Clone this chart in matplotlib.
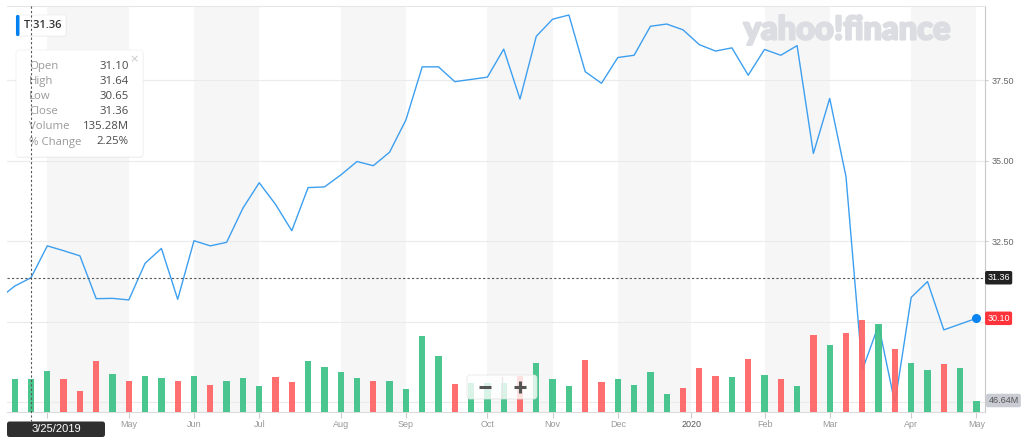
import matplotlib
matplotlib.use('Agg')
import matplotlib.pyplot as plt
from matplotlib.patches import FancyBboxPatch
import matplotlib.patheffects as pe
import pandas as pd

# ---------------- data ----------------
first_week = '2019-03-11'
close = [30.70, 31.10, 31.36, 32.35, 32.20, 32.04, 30.71, 30.72, 30.67, 31.81,
         32.27, 30.69, 32.51, 32.35, 32.46, 33.52, 34.31, 33.64, 32.82, 34.16,
         34.18, 34.55, 34.97, 34.84, 35.26, 36.26, 37.91, 37.91, 37.45, 37.52,
         37.59, 38.46, 36.91, 38.86, 39.39, 39.52, 37.76, 37.40, 38.20, 38.27,
         39.17, 39.24, 39.06, 38.60, 38.40, 38.50, 37.65, 38.45, 38.27, 38.57,
         35.22, 36.93, 34.50, 28.49, 29.89, 27.46, 30.75, 31.24, 29.74, 29.92,
         30.10]
volume_m = [135, 135.28, 166, 135, 86, 206, 153, 126, 146, 138,
            126, 146, 108, 126, 138, 104, 142, 122, 206, 184,
            161, 138, 126, 126, 93, 307, 226, 114, 119, 119,
            119, 146, 199, 133, 107, 212, 122, 133, 110, 161,
            72, 96, 177, 146, 142, 215, 149, 135, 104, 314,
            272, 321, 374, 356, 255, 199, 171, 195, 177, 46.64]
up = [1, 1, 1, 0, 0, 0, 1, 0, 1, 1,
      0, 1, 0, 1, 1, 1, 0, 0, 1, 1,
      1, 1, 0, 1, 1, 1, 1, 0, 1, 1,
      1, 0, 1, 1, 1, 0, 0, 1, 1, 1,
      1, 0, 0, 0, 1, 0, 1, 0, 1, 0,
      1, 0, 0, 1, 0, 1, 1, 0, 1, 1]
y_ticks = [27.5, 30.0, 32.5, 35.0, 37.5]
y_labels = ['', '', '32.50', '35.00', '37.50']
ticker = 'T'
hover_week = '2019-03-25'
tooltip_rows = [('Open', '31.10'), ('High', '31.64'), ('Low', '30.65'),
                ('Close', '31.36'), ('Volume', '135.28M'), ('% Change', '2.25%')]

# ---------------- derived ----------------
dates = pd.date_range(first_week, periods=len(close), freq='7D')
xp = list(range(-1, len(close) - 1))          # price positions (weekly index)
xv = list(range(len(volume_m)))               # volume bar positions
vdates = dates[1:]
hover_i = list(vdates).index(pd.Timestamp(hover_week))
hover_close = close[hover_i + 1]
last_close = close[-1]

# month boundaries / ticks
tick_pos, tick_lab = [], []
for i in range(1, len(vdates)):
    d, p = vdates[i], vdates[i - 1]
    if d.month != p.month:
        pos = i - 0.5 if d.month == 1 else i
        tick_pos.append(pos)
        tick_lab.append(str(d.year) if d.month == 1 else d.strftime('%b'))

W, H = 1024, 441
fig = plt.figure(figsize=(W / 100, H / 100), dpi=100)
fig.patch.set_facecolor('white')
L, R, T, B = 7, 985, 6, 412
ax = fig.add_axes([L / W, 1 - B / H, (R - L) / W, (B - T) / H])
ax2 = ax.twinx()

step = 16.3
x0px = 14.7
ax.set_xlim((L - x0px) / step, (R - x0px) / step)
ax.set_ylim(27.19, 39.80)
ax2.set_ylim(0, 406 * 4.06)

# alternate month shading
bounds = tick_pos + [ax.get_xlim()[1]]
for k in range(len(tick_pos)):
    if k % 2 == 0:
        ax.axvspan(bounds[k], bounds[k + 1], color='#f6f6f6', lw=0, zorder=0)

ax.set_yticks(y_ticks)
ax.set_yticklabels(y_labels)
ax.yaxis.tick_right()
ax.yaxis.grid(True, color='#ebebeb', lw=0.8, zorder=1)
ax.set_axisbelow(True)
ax.tick_params(axis='y', length=2.5, color='#cccccc', labelsize=6.5,
               labelcolor='#666666', pad=2)
for lab in ax.get_yticklabels():
    lab.set_fontfamily('Liberation Sans')

# the first month label sits under the hover date box, so it is hidden there
shown_labels = ['' if k == 0 else t for k, t in enumerate(tick_lab)]
ax.set_xticks(tick_pos)
ax.set_xticklabels(shown_labels)
ax.tick_params(axis='x', length=4, color='#cccccc', labelsize=6.5,
               labelcolor='#999999', pad=1.5)
for lab in ax.get_xticklabels():
    lab.set_fontfamily('Liberation Sans')
    if lab.get_text().isdigit():
        lab.set_color('#555555')

ax.spines['left'].set_visible(False)
ax.spines['top'].set_color('#e6e6e6')
ax.spines['right'].set_color('#c8c8c8')
ax.spines['bottom'].set_color('#dcdcdc')
for s in ax2.spines.values():
    s.set_visible(False)
ax2.set_yticks([])

# price line
ax.plot(xp, close, color='#3d9ff0', lw=1.0, zorder=3)
ax.axhline(hover_close, color='#555555', ls=(0, (2, 2)), lw=0.8, zorder=3)
ax.plot([xp[-1]], [last_close], 'o', ms=5.5, color='#0a84f0', zorder=5, clip_on=False)

# volume bars (drawn above the line, translucent)
cols = ['#3ec287' if u else '#ff6464' for u in up]
ax2.bar(xv, volume_m, width=0.39, color=cols, alpha=0.93, lw=0, zorder=2)

# right side value boxes
ax.text(1.0024, hover_close, f'{hover_close:.2f}', transform=ax.get_yaxis_transform(),
        ha='left', va='center', fontsize=6.5, color='white', family='Liberation Sans',
        bbox=dict(boxstyle='round,pad=0.25,rounding_size=0.2', fc='#222222', ec='none'),
        clip_on=False, zorder=6)
ax.text(1.0024, last_close, f'{last_close:.2f}', transform=ax.get_yaxis_transform(),
        ha='left', va='center', fontsize=6.5, color='white', family='Liberation Sans',
        bbox=dict(boxstyle='round,pad=0.25,rounding_size=0.2', fc='#ff333a', ec='none'),
        clip_on=False, zorder=6)
ax2.text(1.0034, volume_m[-1], f'{volume_m[-1]:.2f}M', transform=ax2.get_yaxis_transform(),
         ha='left', va='center', fontsize=6.5, color='#555555', family='Liberation Sans',
         bbox=dict(boxstyle='round,pad=0.25,rounding_size=0.2', fc='#c9ccd2', ec='none'),
         clip_on=False, zorder=6)

# ---------------- overlay (pixel coordinates) ----------------
ov = fig.add_axes([0, 0, 1, 1], zorder=10)
ov.set_xlim(0, W)
ov.set_ylim(H, 0)
ov.set_axis_off()

# watermark
ov.text(847, 30, 'yahoo!finance', ha='center', va='center', fontsize=23.5,
        family='Lato', fontweight='black', color='#dcdde2', zorder=1,
        path_effects=[pe.withStroke(linewidth=1.6, foreground='#dcdde2')])

# zoom control
ov.add_patch(FancyBboxPatch((467, 375), 70, 24, boxstyle='round,pad=0,rounding_size=3',
                            fc='white', ec='#e2e2e2', lw=0.6, alpha=0.8, zorder=2))
ov.plot([502, 502], [377, 397], color='#e6e6e6', lw=0.8, zorder=3)
ov.plot([479, 491], [387, 387], color='#555555', lw=2.2, solid_capstyle='butt', zorder=3)
ov.plot([513.5, 525.5], [387, 387], color='#555555', lw=2.2, solid_capstyle='butt', zorder=3)
ov.plot([519.5, 519.5], [381, 393], color='#555555', lw=2.2, solid_capstyle='butt', zorder=3)

# ticker label box
ov.add_patch(FancyBboxPatch((16.5, 15.5), 50, 21, boxstyle='round,pad=0,rounding_size=2',
                            fc='#000000', ec='none', alpha=0.06, zorder=3))
ov.add_patch(FancyBboxPatch((16, 15), 50, 21, boxstyle='round,pad=0,rounding_size=2',
                            fc='white', ec='#ececec', lw=0.5, zorder=4))
ov.add_patch(FancyBboxPatch((16, 15), 3.5, 21, boxstyle='round,pad=0,rounding_size=1.5',
                            fc='#0081f2', ec='none', zorder=5))
ov.text(24, 26, f'{ticker} {hover_close:.2f}', ha='left', va='center', fontsize=8,
        family='Open Sans', fontweight='semibold', color='#333333', zorder=6)

# tooltip table
ov.add_patch(FancyBboxPatch((16.5, 51), 127, 107, boxstyle='round,pad=0,rounding_size=3',
                            fc='#000000', ec='none', alpha=0.05, zorder=3))
ov.add_patch(FancyBboxPatch((16, 50), 127, 107, boxstyle='round,pad=0,rounding_size=3',
                            fc='white', ec='#efefef', lw=0.5, zorder=4))
ov.text(134.5, 59, '\u00d7', ha='center', va='center', fontsize=8, color='#c8c8c8',
        family='DejaVu Sans', zorder=6)
for k, (lab, val) in enumerate(tooltip_rows):
    yy = 66.5 + k * 15.1
    ov.text(29, yy, lab, ha='left', va='center', fontsize=8.2, family='Open Sans',
            color='#9a9a9a', zorder=6)
    ov.text(129, yy, val, ha='right', va='center', fontsize=8.2, family='Open Sans',
            color='#4a4a4a', zorder=6)

# crosshair (above tooltip)
fig.canvas.draw()
hx = ax.transData.transform((hover_i, 0))[0]
ov.plot([hx, hx], [T, 421], color='#555555', ls=(0, (2, 2)), lw=0.8, zorder=7)

# date box
hw = pd.Timestamp(hover_week)
ov.add_patch(FancyBboxPatch((7, 421.5), 98, 15.5, boxstyle='round,pad=0,rounding_size=2.5',
                            fc='#2f2f2f', ec='none', zorder=8))
ov.text(56, 429.5, f'{hw.month}/{hw.day}/{hw.year}',
        ha='center', va='center', fontsize=8, family='Liberation Sans', color='white', zorder=9)

fig.savefig('out.png', dpi=100, facecolor='white')
